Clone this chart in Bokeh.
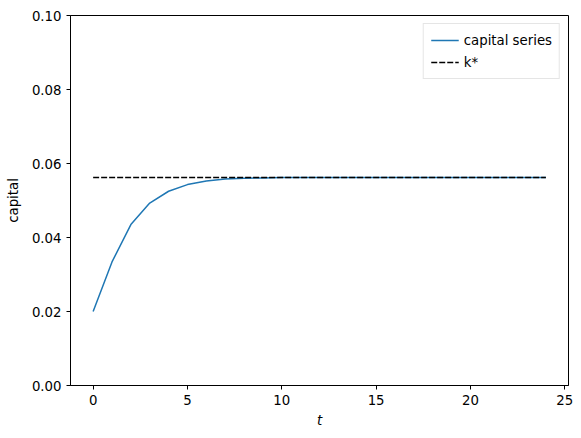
from bokeh.plotting import figure
from bokeh.models import Range1d, Legend, LegendItem, FixedTicker, NumeralTickFormatter
from bokeh.embed import file_html
from bokeh.resources import INLINE

t = list(range(25))
capital = [0.0200, 0.0334, 0.0435, 0.0493, 0.0525, 0.0543, 0.0553, 0.0558,
           0.0560, 0.0561, 0.0562, 0.0562, 0.0562, 0.0562, 0.0562, 0.0562,
           0.0562, 0.0562, 0.0562, 0.0562, 0.0562, 0.0562, 0.0562, 0.0562, 0.0562]
k_star = 0.0562
x_ticks = [0, 5, 10, 15, 20, 25]
y_ticks = [0.0, 0.02, 0.04, 0.06, 0.08, 0.10]

FONT = "DejaVu Sans"
FS = "13.3px"

p = figure(width=581, height=438, output_backend="svg", toolbar_location=None,
           x_range=Range1d(-1.2, 25.2), y_range=Range1d(0, 0.10),
           min_border_left=70, min_border_right=13, min_border_top=15, min_border_bottom=53)
p.xgrid.visible = False
p.ygrid.visible = False
p.outline_line_color = "black"
p.outline_line_width = 1
p.background_fill_color = "white"
p.border_fill_color = "white"

r1 = p.line(t, capital, line_color="#1f77b4", line_width=1.5)
r2 = p.line([t[0], t[-1]], [k_star, k_star], line_color="black", line_width=1.5, line_dash="6 2")

for ax in (p.xaxis[0], p.yaxis[0]):
    ax.axis_line_color = "black"
    ax.axis_line_width = 1
    ax.major_tick_line_color = "black"
    ax.major_tick_line_width = 1
    ax.major_tick_out = 4
    ax.major_tick_in = 0
    ax.minor_tick_line_color = None
    ax.major_label_text_font = FONT
    ax.major_label_text_font_size = FS
    ax.major_label_text_color = "black"
    ax.axis_label_text_font = FONT
    ax.axis_label_text_font_size = FS
    ax.axis_label_text_color = "black"
    ax.axis_label_text_font_style = "normal"

p.xaxis[0].ticker = FixedTicker(ticks=x_ticks)
p.yaxis[0].ticker = FixedTicker(ticks=y_ticks)
p.yaxis[0].formatter = NumeralTickFormatter(format="0.00")
p.xaxis[0].axis_label = "t"
p.xaxis[0].axis_label_text_font_style = "italic"
p.yaxis[0].axis_label = "capital"
p.xaxis[0].major_label_standoff = 5
p.yaxis[0].major_label_standoff = 5
p.xaxis[0].axis_label_standoff = 5
p.yaxis[0].axis_label_standoff = 8

legend = Legend(items=[LegendItem(label="capital series", renderers=[r1]),
                       LegendItem(label="k*", renderers=[r2])],
                location="top_right", margin=8, padding=7, spacing=4,
                glyph_width=28, glyph_height=18, label_height=18,
                label_text_font=FONT, label_text_font_size=FS, label_text_color="black",
                border_line_color="#cccccc", border_line_width=1,
                background_fill_alpha=0.8)
p.add_layout(legend)

open("out.html", "w").write(file_html(p, INLINE))
